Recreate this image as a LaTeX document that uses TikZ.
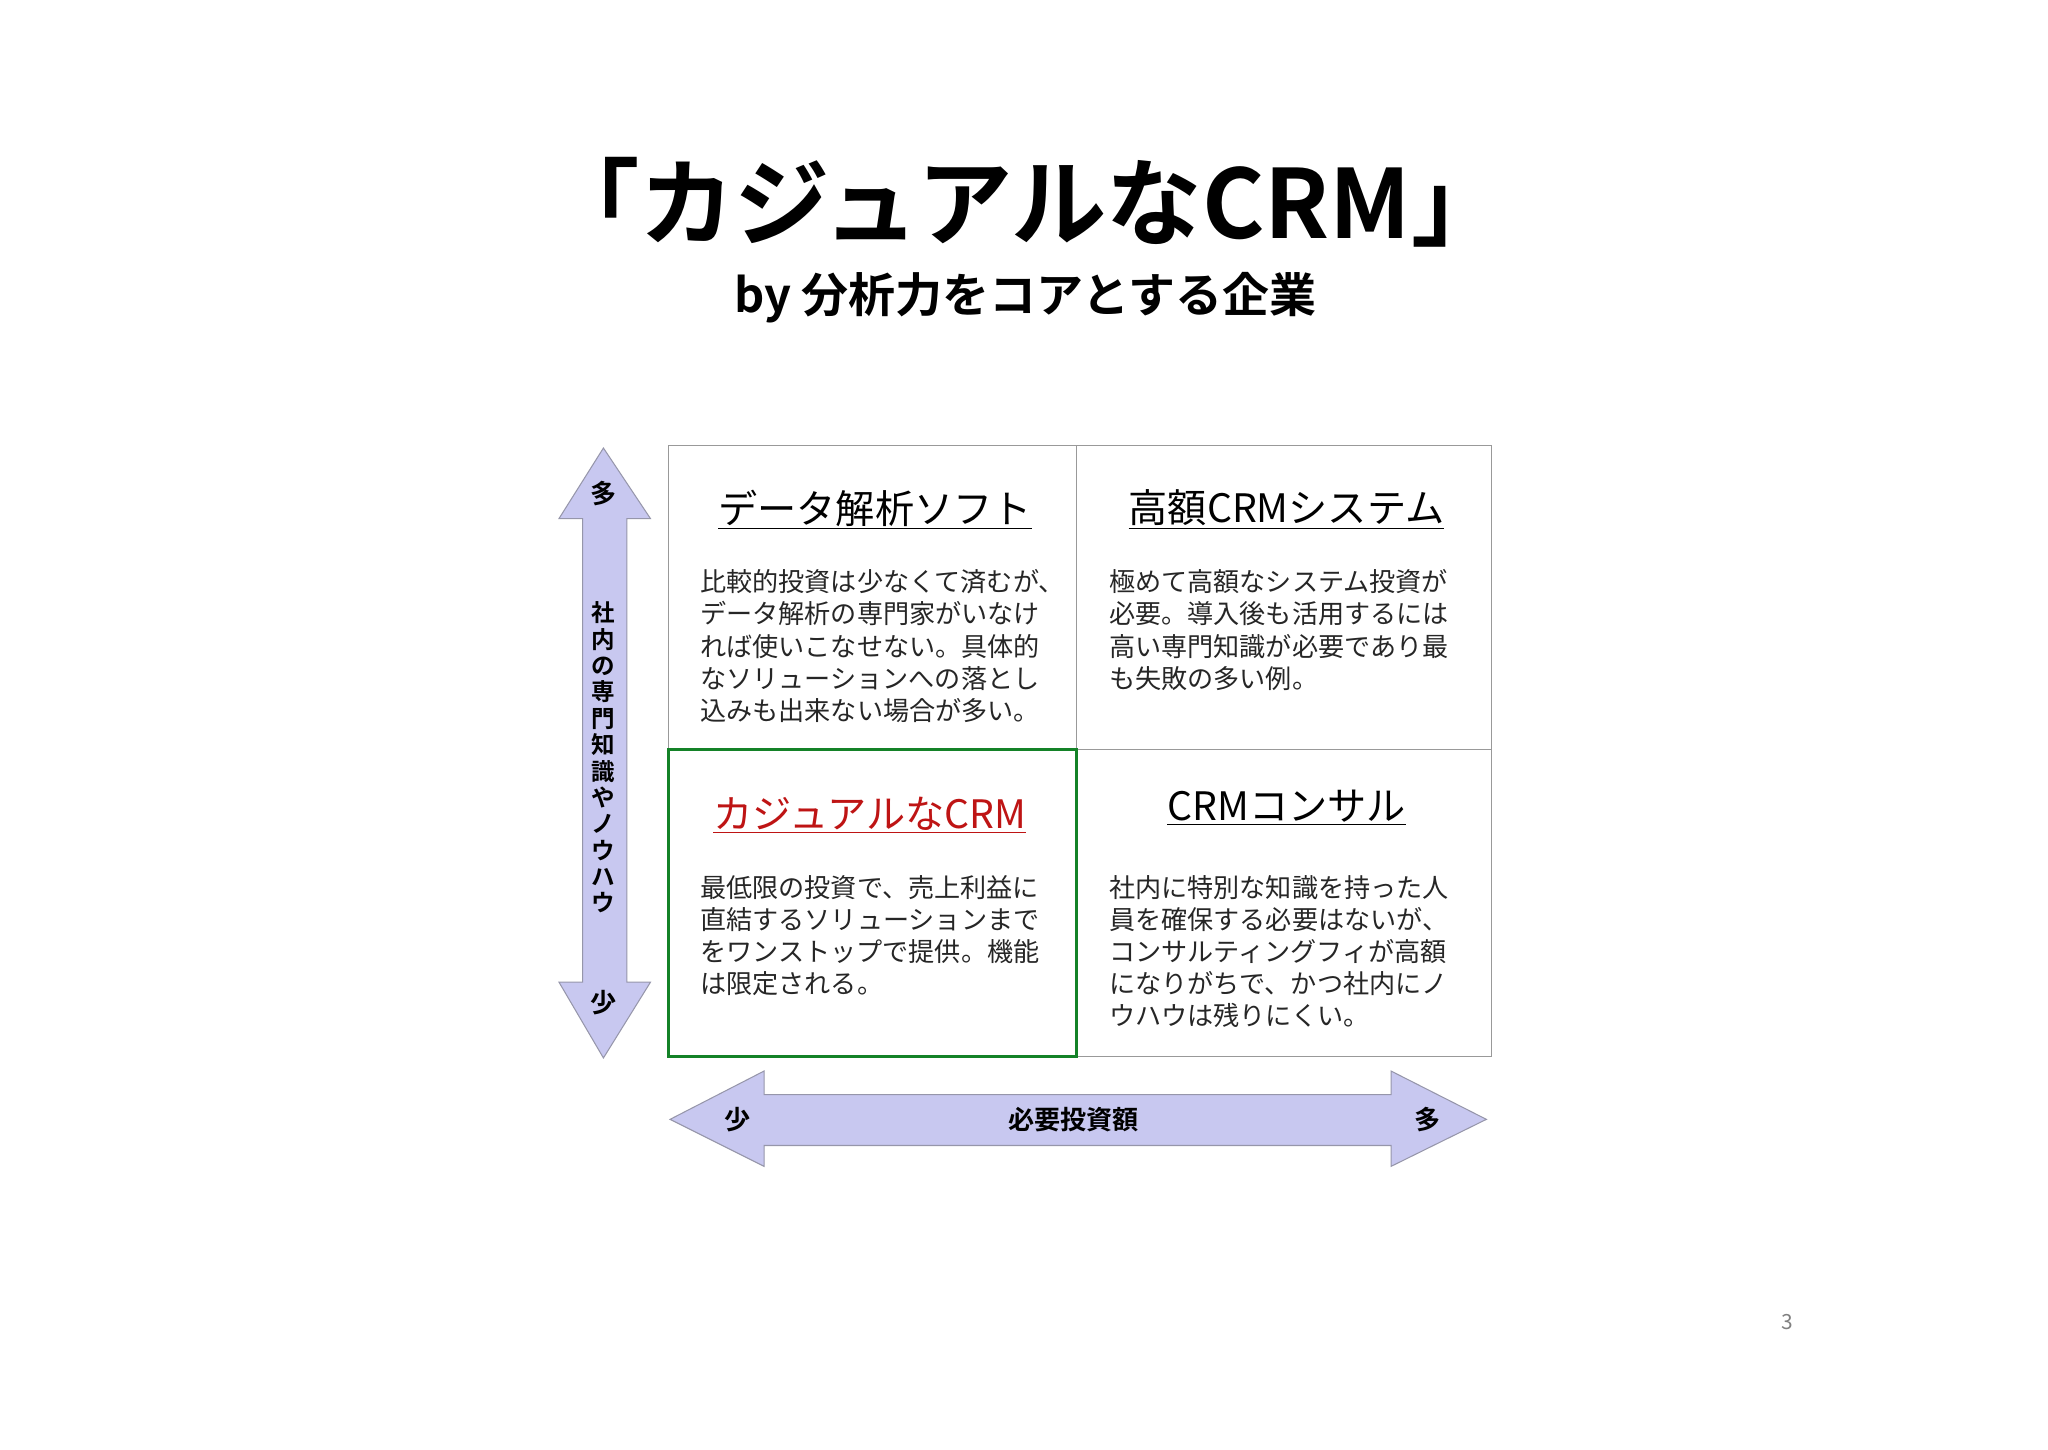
\documentclass[tikz,border=0pt]{standalone}
\usepackage{fontspec}
\setmainfont{Noto Sans CJK JP}
\newfontfamily\cjk{Noto Sans CJK JP}
\newfontfamily\cjkb{Noto Sans CJK JP Bold}
\definecolor{lav}{RGB}{200,200,240}
\definecolor{lavd}{RGB}{150,150,170}
\definecolor{grn}{RGB}{20,130,40}
\definecolor{redh}{RGB}{190,20,20}
\begin{document}
\begin{tikzpicture}[x=1pt,y=-1pt,
  arrowfill/.style={fill=lav,draw=lavd,line width=0.8pt},
  head/.style={font=\cjk\fontsize{30}{34}\selectfont},
  body/.style={font=\cjk\fontsize{20}{24.6}\selectfont,align=left,anchor=north west,inner sep=0pt,text=black!85},
  axl/.style={font=\cjkb\fontsize{20}{22}\selectfont}]
\useasboundingbox (0,0) rectangle (1568,1110);
\node (title) at (785,155) {\cjkb\fontsize{73}{82}\selectfont 「カジュアルなCRM」};
\node (sub) at (785,228) {\cjkb\fontsize{36}{40}\selectfont by 分析力をコアとする企業};
% grid
\draw[black!40,line width=1pt] (512,341) rectangle (1142,809);
\draw[black!40,line width=1pt] (824,341) -- (824,809) (512,574) -- (1142,574);
\draw[grn,line width=2pt] (512,574) rectangle (824,809);
\node[head] (h1) at (670,390) {\underline{データ解析ソフト}};
\node[head] (h2) at (985,390) {\underline{高額CRMシステム}};
\node[head,text=redh] (h3) at (666,624) {\underline{カジュアルなCRM}};
\node[head] (h4) at (985,618) {\underline{CRMコンサル}};
\node[body] (b1) at (536,436) {比較的投資は少なくて済むが、\\データ解析の専門家がいなけ\\れば使いこなせない。具体的\\なソリューションへの落とし\\込みも出来ない場合が多い。};
\node[body] (b2) at (849,436) {極めて高額なシステム投資が\\必要。導入後も活用するには\\高い専門知識が必要であり最\\も失敗の多い例。};
\node[body] (b3) at (536,670) {最低限の投資で、売上利益に\\直結するソリューションまで\\をワンストップで提供。機能\\は限定される。};
\node[body] (b4) at (849,670) {社内に特別な知識を持った人\\員を確保する必要はないが、\\コンサルティングフィが高額\\になりがちで、かつ社内にノ\\ウハウは残りにくい。};
% vertical arrow
\draw[arrowfill] (462,343) -- (498,397) -- (480,397) -- (480,752) -- (498,752) -- (462,810) -- (428,752) -- (446,752) -- (446,397) -- (428,397) -- cycle;
\node[axl] (vt) at (462,378) {多};
\node[axl] (vb) at (462,768) {少};
\node[axl,align=center,font=\cjkb\fontsize{18}{20.2}\selectfont] (vl) at (462,580) {社\\内\\の\\専\\門\\知\\識\\や\\ノ\\ウ\\ハ\\ウ};
% horizontal arrow
\draw[arrowfill] (513,857) -- (585,820) -- (585,838) -- (1065,838) -- (1065,820) -- (1138,857) -- (1065,893) -- (1065,877) -- (585,877) -- (585,893) -- cycle;
\node[axl] (hl) at (565,857) {少};
\node[axl] (hm) at (822,857) {必要投資額};
\node[axl] (hr) at (1093,857) {多};
\node[text=black!50,font=\fontsize{16}{18}\selectfont] (pg) at (1368,1012) {3};
\end{tikzpicture}
\end{document}
